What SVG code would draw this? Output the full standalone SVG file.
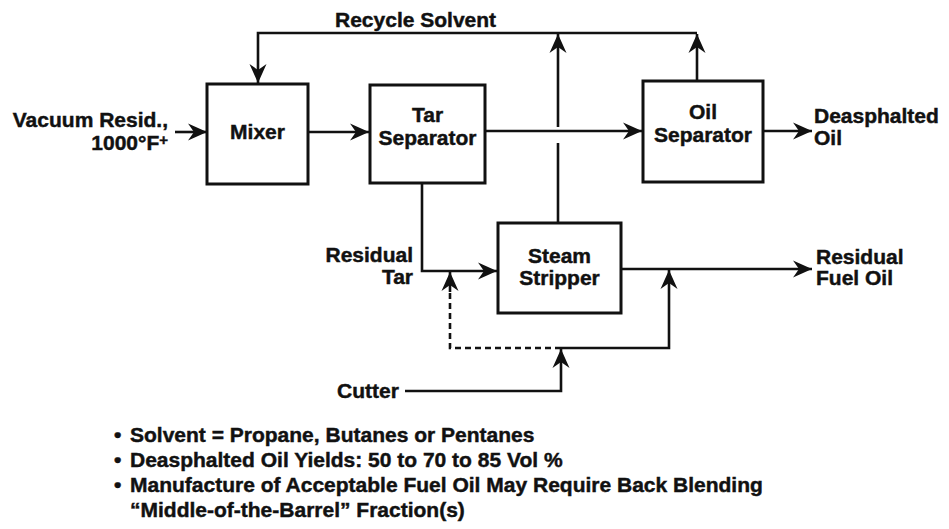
<svg xmlns="http://www.w3.org/2000/svg" width="949" height="529" viewBox="0 0 949 529">
<style>
text{font-family:"Liberation Sans",Arial,sans-serif;font-weight:bold;font-size:21px;fill:#111;stroke:#111;stroke-width:0.45}
.box{fill:#fff;stroke:#111;stroke-width:3}
.ln{fill:none;stroke:#111;stroke-width:2.6;marker-end:url(#ah)}
.pl{fill:none;stroke:#111;stroke-width:2.6}
.ds{fill:none;stroke:#111;stroke-width:2.6;stroke-dasharray:6,4}
.m{text-anchor:middle}
.e{text-anchor:end}
</style>
<defs>
<marker id="ah" markerUnits="userSpaceOnUse" viewBox="-20 -10 21 20" refX="0" refY="0" markerWidth="21" markerHeight="20" orient="auto">
<path d="M0,0 L-19,-8.5 L-13,0 L-19,8.5 Z" fill="#111"/>
</marker>
</defs>
<rect width="949" height="529" fill="#fff"/>
<g id="connectors">
<line class="ln" x1="175" y1="132" x2="207" y2="132"/>
<line class="ln" x1="308" y1="132" x2="369" y2="132"/>
<line class="ln" x1="485" y1="131" x2="642" y2="131"/>
<line class="ln" x1="763" y1="131" x2="812" y2="131"/>
<polyline class="ln" points="697,81 697,34"/>
<polyline class="ln" points="697,33 258,33 258,83"/>
<polyline class="pl" points="558,223 558,143"/>
<polyline class="ln" points="558,127 558,34"/>
<polyline class="ln" points="422,183 422,271 497,271"/>
<line class="ln" x1="621" y1="269" x2="812" y2="269"/>
<polyline class="ln" points="561,348 669,348 669,270"/>
<polyline class="ds" points="561,348 450,348 450,290"/>
<line class="ln" x1="450" y1="292" x2="450" y2="272"/>
<polyline class="ln" points="405,391 561,391 561,349"/>
</g>
<g id="mixer">
<rect class="box" x="207" y="84" width="101" height="100"/>
<text class="m" x="257.5" y="139">Mixer</text>
</g>
<g id="tar-separator">
<rect class="box" x="370" y="85" width="115" height="98"/>
<text class="m" x="427.5" y="122">Tar</text>
<text class="m" x="427.5" y="145">Separator</text>
</g>
<g id="oil-separator">
<rect class="box" x="643" y="81" width="120" height="101"/>
<text class="m" x="703" y="119">Oil</text>
<text class="m" x="703" y="142">Separator</text>
</g>
<g id="steam-stripper">
<rect class="box" x="498" y="223" width="123" height="90"/>
<text class="m" x="559.5" y="263">Steam</text>
<text class="m" x="559.5" y="285">Stripper</text>
</g>
<g id="labels">
<text x="335" y="27">Recycle Solvent</text>
<text class="e" x="168" y="127">Vacuum Resid.,</text>
<text class="e" x="168" y="150">1000°F<tspan font-size="15" dy="-5">+</tspan></text>
<text x="814" y="123">Deasphalted</text>
<text x="814" y="145">Oil</text>
<text class="e" x="413" y="262">Residual</text>
<text class="e" x="413" y="284">Tar</text>
<text x="816" y="264">Residual</text>
<text x="816" y="285">Fuel Oil</text>
<text x="337" y="398">Cutter</text>
</g>
<g id="notes">
<text x="114" y="442">•</text>
<text x="130" y="442">Solvent = Propane, Butanes or Pentanes</text>
<text x="114" y="467">•</text>
<text x="130" y="467">Deasphalted Oil Yields: 50 to 70 to 85 Vol %</text>
<text x="114" y="492">•</text>
<text x="130" y="492">Manufacture of Acceptable Fuel Oil May Require Back Blending</text>
<text x="130" y="517">“Middle-of-the-Barrel” Fraction(s)</text>
</g>
</svg>
